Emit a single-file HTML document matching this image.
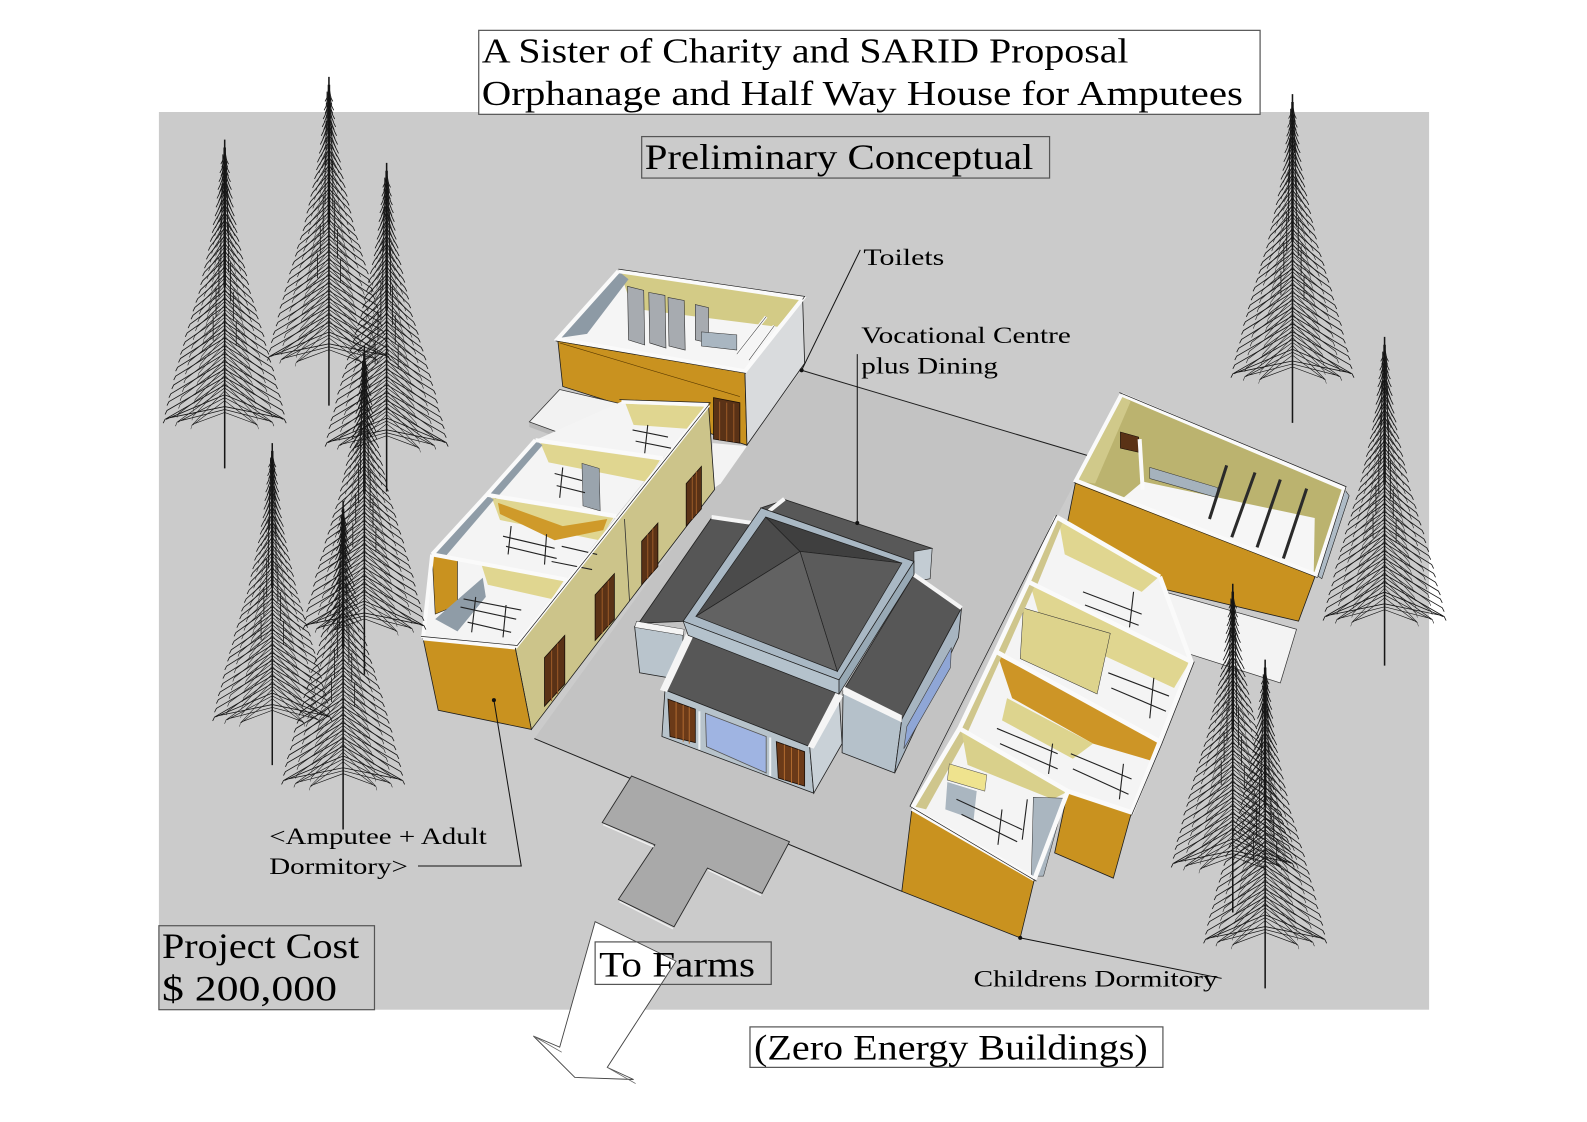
<!DOCTYPE html>
<html>
<head>
<meta charset="utf-8">
<style>
html,body{margin:0;padding:0;background:#fff;}
svg{display:block;}
text{font-family:"Liberation Serif",serif;fill:#000;}
</style>
</head>
<body>
<svg width="1587" height="1122" viewBox="0 0 1568 1109" preserveAspectRatio="none" xmlns="http://www.w3.org/2000/svg">
<defs>
<path id="hb" d="M0 10L2 21l2 4M0 18L3 30l2 4M0 26L4 39l2 4M0 34L5 47l2 4M0 42L6 56l2 4M0 50L7 65l2 4M0 58L8 74l2 4M0 66L10 83l2 4M0 74L11 91l2 4M0 82L13 100l2 4M0 90L15 109l2 4M0 98L17 118l2 4M0 106L19 127l2 4M0 114L21 135l2 4M0 122L23 144l2 4M0 130L25 153l2 4M0 138L28 162l2 4M0 146L31 171l2 4M0 154L33 179l2 4M0 162L36 188l2 4M0 170L39 197l2 4M0 178L41 206l2 4M0 186L44 215l2 4M0 194L46 223l2 4M0 202L49 232l2 4M0 210L51 241l2 4M0 218L53 250l2 4M0 226L56 259l2 4M0 234L58 267l2 4M0 242L60 276l2 4M0 250L62 285l2 4M0 260L61 285M0 272L60 284"/>
<g id="tree" fill="none" stroke="#161616" stroke-width="0.85">
<path d="M0 0V335" stroke-width="1.6"/>
<path d="M0 8V150" stroke-width="2.6"/>
<use href="#hb"/>
<use href="#hb" transform="scale(-1,1)"/>
<use href="#hb" transform="translate(0,6) scale(0.55,1)" stroke-width="0.7"/>
<use href="#hb" transform="translate(0,6) scale(-0.55,1)" stroke-width="0.7"/>
<use href="#hb" transform="translate(0,3) scale(0.8,1)" stroke-width="0.7"/>
<use href="#hb" transform="translate(0,3) scale(-0.8,1)" stroke-width="0.7"/>
<path d="M-2 15v40M2 20v40M-3 45v45M3 50v45M-4 80v50M4 85v50M-6 120v40M6 125v40M-9 150v30M9 155v30M-12 180v25M12 185v25"/>
</g>
</defs>

<rect x="0" y="0" width="1568" height="1109" fill="#ffffff"/>
<rect x="157" y="110.7" width="1255" height="887.3" fill="#cbcbcb"/>

<!-- courtyard -->
<polygon points="792,366 1077,451 1063,475 1044,511 901,799 891,881 528,730 706,484 738,440" fill="#c3c3c3"/>
<line x1="792" y1="366" x2="1077" y2="451" stroke="#1e1e1e" stroke-width="1"/>
<line x1="528" y1="730" x2="891" y2="881" stroke="#1e1e1e" stroke-width="1"/>

<!-- walkway -->
<polygon points="624,767 595,813 647,835 611,889 666,916 699,858 753,883 780,832" fill="#a9a9a9" stroke="#2a2a2a" stroke-width="0.9"/>
<path d="M596,815 L646,837 M612,891 L665,918 M700,860 L752,885" stroke="#eeeeee" stroke-width="1.5" fill="none"/>

<!-- arrow -->
<polygon points="588,911 553,1035 527,1024 568,1065 626,1067 600,1055 668,950" fill="#ffffff" stroke="#444" stroke-width="0.9"/>
<path d="M527,1024 L555,1040 M600,1055 L628,1071" stroke="#666" stroke-width="0.8" fill="none"/>

<!-- toilet block -->
<polygon points="611,268 793,295 736,367 551,335" fill="#f5f5f5"/>
<polygon points="613,270 791,296 768,323 625,305" fill="#d3cb86"/>
<polygon points="611,268 621,276 580,330 553,334" fill="#8d9aa5"/>
<polygon points="620,283 636,287 637,341 621,336" fill="#a7abb0" stroke="#333" stroke-width="0.6"/>
<polygon points="641,289 657,292 658,344 642,339" fill="#a7abb0" stroke="#333" stroke-width="0.6"/>
<polygon points="660,294 676,297 677,346 661,342" fill="#a7abb0" stroke="#333" stroke-width="0.6"/>
<polygon points="687,301 700,304 700,339 687,336" fill="#a7abb0" stroke="#333" stroke-width="0.6"/>
<polygon points="693,328 728,331 728,346 693,342" fill="#a9b6c1" stroke="#333" stroke-width="0.5"/>
<path d="M728,350 L757,313 M740,356 L765,322" stroke="#f8f8f8" stroke-width="3" fill="none"/>
<path d="M728,350 L757,313 M740,356 L765,322" stroke="#333" stroke-width="0.5" fill="none"/>
<polygon points="551,335 736,367 738,440 556,382" fill="#c9921f" stroke="#1e1e1e" stroke-width="0.8"/>
<line x1="553" y1="339" x2="731" y2="392" stroke="#5a3a00" stroke-width="0.6"/>
<polygon points="736,367 793,295 795,359 738,440" fill="#d9dbdd" stroke="#1e1e1e" stroke-width="0.8"/>
<polygon points="705,393 731,398 731,438 705,434" fill="#5a3216" stroke="#1a0f08" stroke-width="0.8"/>
<path d="M711,397v38M718,398v38M725,399v38" stroke="#9a5a28" stroke-width="1"/>
<polyline points="611,268 793,295 736,367 551,335 611,268" fill="none" stroke="#fafafa" stroke-width="4"/>
<polyline points="611,266 795,293 793,296" fill="none" stroke="#1e1e1e" stroke-width="0.7"/>
<line x1="549" y1="337" x2="737" y2="369" stroke="#1e1e1e" stroke-width="0.7"/>
<circle cx="792" cy="366" r="2" fill="#111"/>

<!-- passage + slab -->
<polygon points="704,438 738,441 712,478 703,484" fill="#f3f3f3"/>
<polygon points="523,417 586,440 586,445 523,422" fill="#b8b8b8"/>
<polygon points="523,417 553,385 626,402 586,440" fill="#f2f2f2" stroke="#333" stroke-width="0.8"/>

<!-- left dormitory -->
<polygon points="509,640 700,400 706,484 525,721" fill="#ccc48a" stroke="#1e1e1e" stroke-width="0.8"/>
<line x1="617" y1="513" x2="622" y2="594" stroke="#333" stroke-width="0.8"/>
<polygon points="538,650 558,628 558,676 538,698" fill="#5a3216" stroke="#1a0f08" stroke-width="0.8"/>
<polygon points="588,588 607,567 607,612 588,633" fill="#5a3216" stroke="#1a0f08" stroke-width="0.8"/>
<polygon points="634,535 650,517 650,560 634,578" fill="#5a3216" stroke="#1a0f08" stroke-width="0.8"/>
<polygon points="678,478 693,461 693,503 678,520" fill="#5a3216" stroke="#1a0f08" stroke-width="0.8"/>
<path d="M545,643v50M551,636v50M595,581v45M601,574v45M640,528v44M645,522v44M684,471v42M688,466v42" stroke="#9a5a28" stroke-width="1"/>
<polygon points="418,631 509,640 525,721 433,702" fill="#c9921f" stroke="#1e1e1e" stroke-width="0.8"/>
<circle cx="488" cy="692" r="2" fill="#111"/>
<polygon points="418,631 509,640 560,573 427,548" fill="#f4f4f4"/>
<polygon points="427,548 560,573 609,510 481,489" fill="#f4f4f4"/>
<polygon points="481,489 609,510 655,453 529,435" fill="#f4f4f4"/>
<polygon points="529,435 655,453 700,400 614,397" fill="#f4f4f4"/>
<polygon points="427,549 452,554 452,598 430,607" fill="#c9921f" stroke="#1e1e1e" stroke-width="0.6"/>
<polygon points="430,612 477,571 480,590 452,624" fill="#8f9ca7"/>
<polygon points="476,559 557,574 545,592 482,578" fill="#e0d690"/>
<polygon points="486,492 606,512 592,534 494,514" fill="#e0d690"/>
<polygon points="492,497 556,520 600,513 596,524 548,534 494,508" fill="#cf9a2a"/>
<polygon points="534,438 652,455 638,476 542,457" fill="#e0d690"/>
<polygon points="618,399 698,402 682,424 626,420" fill="#e0d690"/>
<polygon points="427,548 481,489 488,494 440,550" fill="#8f9ca7"/>
<polygon points="481,489 529,435 536,440 490,493" fill="#8f9ca7"/>
<polygon points="575,458 592,463 593,505 576,500" fill="#9aa4ad" stroke="#333" stroke-width="0.5"/>
<path d="M455,600 L510,612 M458,592 L515,603 M462,615 L505,625 M470,590 L466,625 M500,598 L497,630 M497,530 L548,542 M500,540 L550,552 M505,520 L502,548 M540,528 L538,558 M555,540 L590,548 M545,555 L585,563 M548,468 L575,475 M550,480 L578,487 M556,462 L553,492 M625,425 L660,432 M628,436 L663,443 M640,420 L637,448" stroke="#222" stroke-width="1.1" fill="none"/>
<path d="M418,631 L509,640 M427,548 L560,573 M481,489 L609,510 M529,435 L655,453 M614,397 L700,400 M509,640 L700,400 M418,631 L427,548 M427,548 L481,489 M481,489 L529,435" stroke="#fafafa" stroke-width="4" fill="none"/>
<path d="M416,629 L511,638 L702,398 M612,395 L702,398" stroke="#1e1e1e" stroke-width="0.7" fill="none"/>

<!-- central building -->
<polygon points="776,494 921,542 903,555 752,502" fill="#585858" stroke="#222" stroke-width="0.8"/>
<polygon points="903,545 921,542 919,572 903,575" fill="#c3ccd3" stroke="#222" stroke-width="0.6"/>
<line x1="775" y1="493" x2="760" y2="505" stroke="#f5f5f5" stroke-width="4"/>
<polygon points="703,512 744,519 678,614 631,616" fill="#565656" stroke="#222" stroke-width="0.8"/>
<line x1="703" y1="511" x2="743" y2="517" stroke="#f5f5f5" stroke-width="4"/>
<polygon points="627,619 675,627 673,672 632,665" fill="#b9c4cc" stroke="#222" stroke-width="0.8"/>
<polygon points="629,614 676,622 675,628 627,620" fill="#f5f5f5" stroke="#333" stroke-width="0.5"/>
<polygon points="903,568 950,601 891,711 833,683" fill="#575757" stroke="#222" stroke-width="0.8"/>
<polygon points="833,683 891,711 884,764 832,744" fill="#b5c1ca" stroke="#222" stroke-width="0.8"/>
<polygon points="891,711 950,601 947,630 884,764" fill="#a7b5c1" stroke="#222" stroke-width="0.8"/>
<polygon points="896,718 940,640 939,660 893,740" fill="#8fa6d6" stroke="#444" stroke-width="0.6"/>
<polygon points="833,678 891,707 891,714 833,686" fill="#f5f5f5"/>
<line x1="903" y1="568" x2="950" y2="601" stroke="#f5f5f5" stroke-width="4"/>
<polygon points="682,628 829,686 800,738 657,682" fill="#575757" stroke="#222" stroke-width="0.8"/>
<polygon points="657,682 800,738 804,784 654,728" fill="#b7c3cb" stroke="#222" stroke-width="0.8"/>
<polygon points="800,738 829,686 832,735 804,784" fill="#c9d1d7" stroke="#222" stroke-width="0.8"/>
<polygon points="652,682 678,626 685,629 659,684" fill="#f5f5f5"/>
<polygon points="798,738 826,684 833,688 804,740" fill="#f5f5f5"/>
<polygon points="660,691 687,701 687,734 662,728" fill="#6b3a18" stroke="#1a0f08" stroke-width="0.8"/>
<polygon points="767,733 795,743 795,777 769,769" fill="#6b3a18" stroke="#1a0f08" stroke-width="0.8"/>
<path d="M668,694v36M675,697v36M681,699v36M775,736v35M782,739v35M789,741v35" stroke="#b06a30" stroke-width="1"/>
<polygon points="697,705 757,728 757,764 698,738" fill="#9fb4e2" stroke="#555" stroke-width="0.8"/>
<path d="M691,703v38M761,729v38" stroke="#eef2f5" stroke-width="2"/>
<polygon points="752,502 903,555 829,672 675,614" fill="#a9b8c4" stroke="#222" stroke-width="0.8"/>
<polygon points="675,614 829,672 829,686 680,628" fill="#b4c2cc" stroke="#222" stroke-width="0.7"/>
<polygon points="829,672 903,555 903,568 829,686" fill="#98a9b5" stroke="#222" stroke-width="0.7"/>
<polygon points="756.5,511 790.4,545 687.6,609.2" fill="#4b4b4b" stroke="#222" stroke-width="0.7"/>
<polygon points="756.5,511 891,556.5 790.4,545" fill="#3f3f3f" stroke="#222" stroke-width="0.7"/>
<polygon points="891,556.5 827.3,663.6 790.4,545" fill="#5b5b5b" stroke="#222" stroke-width="0.7"/>
<polygon points="687.6,609.2 790.4,545 827.3,663.6" fill="#626262" stroke="#222" stroke-width="0.7"/>

<!-- childrens dormitory upper block -->
<polygon points="1063,475 1300,568 1283,614 1140,580 1055,515" fill="#c9921f" stroke="#1e1e1e" stroke-width="0.8"/>
<polygon points="1300,568 1328,483 1333,490 1306,572" fill="#aebbc6" stroke="#1e1e1e" stroke-width="0.6"/>
<polygon points="1108,390 1328,483 1300,568 1063,475" fill="#bbb36f"/>
<polygon points="1129,476 1299,512 1298,566 1110,492" fill="#f6f6f6"/>
<polygon points="1063,475 1108,390 1117,397 1082,478" fill="#d0c98a"/>
<polygon points="1107,427 1125,432 1125,447 1107,443" fill="#5a3216" stroke="#1a0f08" stroke-width="0.6"/>
<line x1="1126" y1="434" x2="1129" y2="484" stroke="#fafafa" stroke-width="4"/>
<polygon points="1136,462 1203,482 1203,492 1136,473" fill="#a5b2bd" stroke="#333" stroke-width="0.5"/>
<path d="M1212,460 L1195,513 M1240,467 L1217,531 M1265,474 L1242,541 M1291,483 L1268,552" stroke="#2a2a2a" stroke-width="3"/>
<polyline points="1108,390 1328,483 1300,568 1063,475 1108,390" fill="none" stroke="#fafafa" stroke-width="4"/>
<polyline points="1106,388 1330,481 1302,570" fill="none" stroke="#1e1e1e" stroke-width="0.7"/>
<line x1="1061" y1="477" x2="1302" y2="571" stroke="#1e1e1e" stroke-width="0.6"/>
<polygon points="1133,580 1281,622 1265,675 1133,633" fill="#f3f3f3" stroke="#333" stroke-width="0.7"/>

<!-- childrens dormitory lower block -->
<polygon points="1055,782 1118,803 1100,868 1042,843" fill="#c9921f" stroke="#1e1e1e" stroke-width="0.8"/>
<polygon points="901,799 1022,869 1008,927 891,881" fill="#c9921f" stroke="#1e1e1e" stroke-width="0.8"/>
<circle cx="1008" cy="927" r="2" fill="#111"/>
<polygon points="901,799 1022,869 1055,782 948,720" fill="#f4f4f4"/>
<polygon points="948,720 1055,782 1118,803 1146,733 984,644" fill="#f4f4f4"/>
<polygon points="984,644 1146,733 1177,654 1016,575" fill="#f4f4f4"/>
<polygon points="1016,575 1177,654 1146,570 1044,511" fill="#f4f4f4"/>
<polygon points="903,797 948,722 955,728 915,800" fill="#cfc68c"/>
<polygon points="950,722 1054,783 1040,790 956,756" fill="#d9d08b"/>
<polygon points="938,755 975,766 973,782 936,771" fill="#efe38e" stroke="#555" stroke-width="0.5"/>
<polygon points="936,773 965,782 962,810 934,800" fill="#aab6c0"/>
<polygon points="1021,788 1052,789 1031,866 1019,866" fill="#aab6c0" stroke="#333" stroke-width="0.5"/>
<polygon points="986,648 1146,731 1138,752 1080,735 1000,690" fill="#cd9526"/>
<polygon points="995,690 1080,735 1060,750 990,712" fill="#ddd48e"/>
<polygon points="1018,578 1175,655 1160,680 1030,620" fill="#e0d690"/>
<polygon points="1011,601 1097,626 1084,686 1008,651" fill="#ddd38c" stroke="#333" stroke-width="0.5"/>
<polygon points="1046,514 1144,571 1128,585 1052,548" fill="#e0d690"/>
<polygon points="984,644 1016,575 1022,580 992,648" fill="#cfc68c"/>
<polygon points="1016,575 1044,511 1050,516 1024,580" fill="#cfc68c"/>
<polygon points="948,720 984,644 990,648 956,724" fill="#cfc68c"/>
<path d="M945,790 L1010,820 M950,805 L1005,832 M990,800 L986,835 M1015,790 L1010,830 M985,720 L1045,745 M988,735 L1045,760 M1040,735 L1036,765 M1058,745 L1118,770 M1060,760 L1115,785 M1110,755 L1106,790 M1095,665 L1155,688 M1098,680 L1152,703 M1140,670 L1136,710 M1070,585 L1128,607 M1072,598 L1125,618 M1120,585 L1116,620" stroke="#222" stroke-width="1.1" fill="none"/>
<path d="M901,799 L1022,869 M948,720 L1055,782 M984,644 L1146,733 M1016,575 L1177,654 M1044,511 L1146,570 M901,799 L948,720 L984,644 L1016,575 L1044,511 M1022,869 L1055,782 M1055,782 L1118,803 L1146,733 M1146,570 L1177,654 L1146,733" stroke="#fafafa" stroke-width="4.5" fill="none"/>
<path d="M899,797 L1024,871 M1118,806 L1148,735 L1180,654 M899,797 L1044,509" stroke="#1e1e1e" stroke-width="0.7" fill="none"/>

<!-- trees -->
<use href="#tree" transform="translate(222,138) scale(0.95,0.97)"/>
<use href="#tree" transform="translate(325,76) scale(0.95,0.97)"/>
<use href="#tree" transform="translate(382,161) scale(0.95,0.97)"/>
<use href="#tree" transform="translate(269,438) scale(0.92,0.95)"/>
<use href="#tree" transform="translate(360,342) scale(0.95,0.97)"/>
<use href="#tree" transform="translate(339,495) scale(0.95,0.97)"/>
<use href="#tree" transform="translate(1277,93) scale(0.95,0.97)"/>
<use href="#tree" transform="translate(1368,333) scale(0.95,0.97)"/>
<use href="#tree" transform="translate(1218,577) scale(0.95,0.97)"/>
<use href="#tree" transform="translate(1250,652) scale(0.95,0.97)"/>

<!-- leader lines -->
<g stroke="#111" stroke-width="1" fill="none">
<line x1="850" y1="247" x2="792" y2="366"/>
<line x1="847" y1="350" x2="847" y2="517"/>
<polyline points="413,856 515,856 488,692"/>
<line x1="1207" y1="967" x2="1008" y2="927"/>
</g>
<circle cx="847" cy="517" r="2" fill="#111"/>

<!-- boxes -->
<rect x="473" y="30" width="772" height="83" fill="#ffffff" stroke="#555" stroke-width="1.2"/>
<rect x="634" y="135" width="403" height="41" fill="none" stroke="#555" stroke-width="1.2"/>
<rect x="157" y="915" width="213" height="83" fill="none" stroke="#555" stroke-width="1.2"/>
<rect x="588" y="931" width="174" height="42" fill="none" stroke="#555" stroke-width="1.2"/>
<rect x="741" y="1015" width="408" height="40" fill="#ffffff" stroke="#555" stroke-width="1.2"/>

<!-- texts -->
<text x="476" y="62" font-size="35" textLength="639" lengthAdjust="spacingAndGlyphs">A Sister of Charity and SARID Proposal</text>
<text x="476" y="104" font-size="35" textLength="752" lengthAdjust="spacingAndGlyphs">Orphanage and Half Way House for Amputees</text>
<text x="637" y="167" font-size="36" textLength="384" lengthAdjust="spacingAndGlyphs">Preliminary Conceptual</text>
<text x="853" y="262" font-size="23" textLength="80" lengthAdjust="spacingAndGlyphs">Toilets</text>
<text x="851" y="339" font-size="23" textLength="207" lengthAdjust="spacingAndGlyphs">Vocational Centre</text>
<text x="851" y="369" font-size="23" textLength="135" lengthAdjust="spacingAndGlyphs">plus Dining</text>
<text x="266" y="834" font-size="23" textLength="215" lengthAdjust="spacingAndGlyphs">&lt;Amputee + Adult</text>
<text x="266" y="864" font-size="23" textLength="137" lengthAdjust="spacingAndGlyphs">Dormitory&gt;</text>
<text x="962" y="975" font-size="23" textLength="241" lengthAdjust="spacingAndGlyphs">Childrens Dormitory</text>
<text x="160" y="947" font-size="36" textLength="195" lengthAdjust="spacingAndGlyphs">Project Cost</text>
<text x="160" y="989" font-size="36" textLength="173" lengthAdjust="spacingAndGlyphs">$ 200,000</text>
<text x="592" y="965" font-size="36" textLength="154" lengthAdjust="spacingAndGlyphs">To Farms</text>
<text x="745" y="1047" font-size="36" textLength="389" lengthAdjust="spacingAndGlyphs">(Zero Energy Buildings)</text>
</svg>
</body>
</html>
